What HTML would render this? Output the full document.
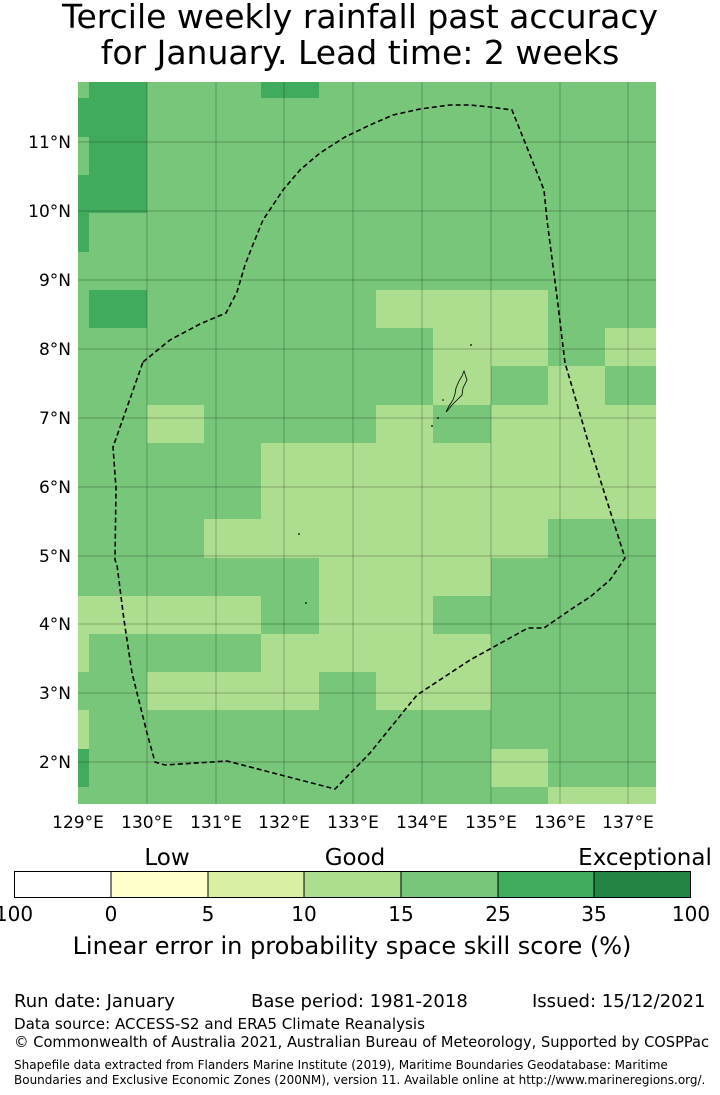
<!DOCTYPE html>
<html><head><meta charset="utf-8"><style>
body{margin:0;background:#fff;}
svg{display:block;font-family:"Liberation Sans","DejaVu Sans",sans-serif;}
</style></head><body>
<svg width="720" height="1095" viewBox="0 0 720 1095" xmlns="http://www.w3.org/2000/svg">
<text x="360" y="28" font-size="33" text-anchor="middle" font-family="DejaVu Sans, sans-serif">Tercile weekly rainfall past accuracy</text>
<text x="360" y="64" font-size="33" text-anchor="middle" font-family="DejaVu Sans, sans-serif">for January. Lead time: 2 weeks</text>
<g id="map">
<rect x="78" y="82" width="578" height="722" fill="#78c679"/>
<g fill="#41ab5d">
<rect x="89" y="82" width="58" height="16"/><rect x="261" y="82" width="58" height="16"/>
<rect x="78" y="98" width="69" height="39"/>
<rect x="89" y="137" width="58" height="38"/>
<rect x="78" y="175" width="69" height="38"/>
<rect x="78" y="213" width="11" height="39"/>
<rect x="89" y="290" width="58" height="38"/>
<rect x="78" y="749" width="11" height="38"/>
</g>
<g fill="#addd8e">
<rect x="376" y="290" width="172" height="38"/>
<rect x="433" y="328" width="115" height="38"/><rect x="605" y="328" width="51" height="38"/>
<rect x="433" y="366" width="58" height="39"/><rect x="548" y="366" width="57" height="39"/>
<rect x="147" y="405" width="57" height="38"/><rect x="376" y="405" width="57" height="38"/><rect x="491" y="405" width="165" height="38"/>
<rect x="261" y="443" width="395" height="76"/>
<rect x="204" y="519" width="344" height="39"/>
<rect x="319" y="558" width="172" height="38"/>
<rect x="78" y="596" width="183" height="38"/><rect x="319" y="596" width="114" height="38"/>
<rect x="78" y="634" width="11" height="38"/><rect x="261" y="634" width="230" height="38"/>
<rect x="147" y="672" width="172" height="38"/><rect x="376" y="672" width="115" height="38"/>
<rect x="78" y="710" width="11" height="39"/>
<rect x="491" y="749" width="57" height="38"/>
<rect x="548" y="787" width="108" height="17"/>
</g>
<g stroke="#000" stroke-opacity="0.25" stroke-width="1">
<path d="M147 82V804M216 82V804M284 82V804M353 82V804M422 82V804M491 82V804M560 82V804M628 82V804"/>
<path d="M78 142H656M78 211H656M78 280H656M78 349H656M78 418H656M78 487H656M78 556H656M78 624H656M78 693H656M78 762H656"/>
</g>
<path d="M143 362 L170 340 L200 324 L226 313 L237 292 L245 265 L252 247 L263 220 L283 190 L300 170 L320 153 L345 137 L370 125 L393 115 L420 109 L450 105 L470 105 L490 107 L512 110 L544 190 L547 220 L557 297 L565 363 L568 373 L587 438 L625 558 L610 580 L590 597 L573 608 L544 628 L528 628 L470 660 L417 695 L370 753 L335 789 L227 761 L165 765 L155 762 L147 733 L140 705 L132 673 L124 620 L117 565 L115 560 L116 488 L113 447 Z" fill="none" stroke="#000" stroke-width="1.6" stroke-dasharray="5,3"/>
<path d="M464 371 L467 380 L463 388 L462 395 L457 400 L452 405 L448 410 L446 412 L449 406 L453 400 L455 394 L456 388 L459 381 L462 376 Z" fill="none" stroke="#000" stroke-width="0.8"/>
<g fill="#000"><circle cx="471" cy="345" r="0.9"/><circle cx="299" cy="534" r="0.9"/><circle cx="306" cy="603" r="0.9"/><circle cx="432" cy="426" r="0.9"/><circle cx="438" cy="418" r="0.9"/><circle cx="443" cy="400" r="0.8"/></g>
</g>
<g font-size="17" fill="#000" font-family="DejaVu Sans, sans-serif">
<g text-anchor="end">
<text x="71" y="148">11°N</text><text x="71" y="217">10°N</text><text x="71" y="286">9°N</text><text x="71" y="355">8°N</text><text x="71" y="424">7°N</text><text x="71" y="493">6°N</text><text x="71" y="562">5°N</text><text x="71" y="630">4°N</text><text x="71" y="699">3°N</text><text x="71" y="768">2°N</text>
</g>
<g text-anchor="middle">
<text x="78" y="828">129°E</text><text x="147" y="828">130°E</text><text x="216" y="828">131°E</text><text x="284" y="828">132°E</text><text x="353" y="828">133°E</text><text x="422" y="828">134°E</text><text x="491" y="828">135°E</text><text x="560" y="828">136°E</text><text x="628" y="828">137°E</text>
</g>
</g>
<g font-family="DejaVu Sans, sans-serif">
<text x="167" y="865" font-size="23" text-anchor="middle">Low</text>
<text x="355" y="865" font-size="23" text-anchor="middle">Good</text>
<text x="645" y="865" font-size="23" text-anchor="middle">Exceptional</text>
<rect x="14" y="871" width="97" height="27" fill="#fff"/>
<rect x="111" y="871" width="97" height="27" fill="#ffffcc"/>
<rect x="208" y="871" width="96" height="27" fill="#d9f0a3"/>
<rect x="304" y="871" width="97" height="27" fill="#addd8e"/>
<rect x="401" y="871" width="97" height="27" fill="#78c679"/>
<rect x="498" y="871" width="96" height="27" fill="#41ab5d"/>
<rect x="594" y="871" width="97" height="27" fill="#238443"/>
<g stroke="#000" stroke-width="1" fill="none"><rect x="14.5" y="871.5" width="676" height="26"/>
<path d="M111 871V898M208 871V898M304 871V898M401 871V898M498 871V898M594 871V898"/></g>
<g font-size="20" text-anchor="middle">
<text x="14" y="921">100</text><text x="111" y="921">0</text><text x="208" y="921">5</text><text x="304" y="921">10</text><text x="401" y="921">15</text><text x="498" y="921">25</text><text x="594" y="921">35</text><text x="691" y="921">100</text>
</g>
<text x="352" y="954" font-size="24" text-anchor="middle">Linear error in probability space skill score (%)</text>
<g font-size="18">
<text x="14" y="1007">Run date: January</text>
<text x="251" y="1007">Base period: 1981-2018</text>
<text x="532" y="1007">Issued: 15/12/2021</text>
</g>
<text x="14" y="1029" font-size="15" textLength="411" lengthAdjust="spacingAndGlyphs">Data source: ACCESS-S2 and ERA5 Climate Reanalysis</text>
<text x="14" y="1047" font-size="15" textLength="695" lengthAdjust="spacingAndGlyphs">© Commonwealth of Australia 2021, Australian Bureau of Meteorology, Supported by COSPPac</text>
<text x="14" y="1069" font-size="12">Shapefile data extracted from Flanders Marine Institute (2019), Maritime Boundaries Geodatabase: Maritime</text>
<text x="14" y="1084" font-size="12">Boundaries and Exclusive Economic Zones (200NM), version 11. Available online at http://www.marineregions.org/.</text>
</g>
</svg>
</body></html>
